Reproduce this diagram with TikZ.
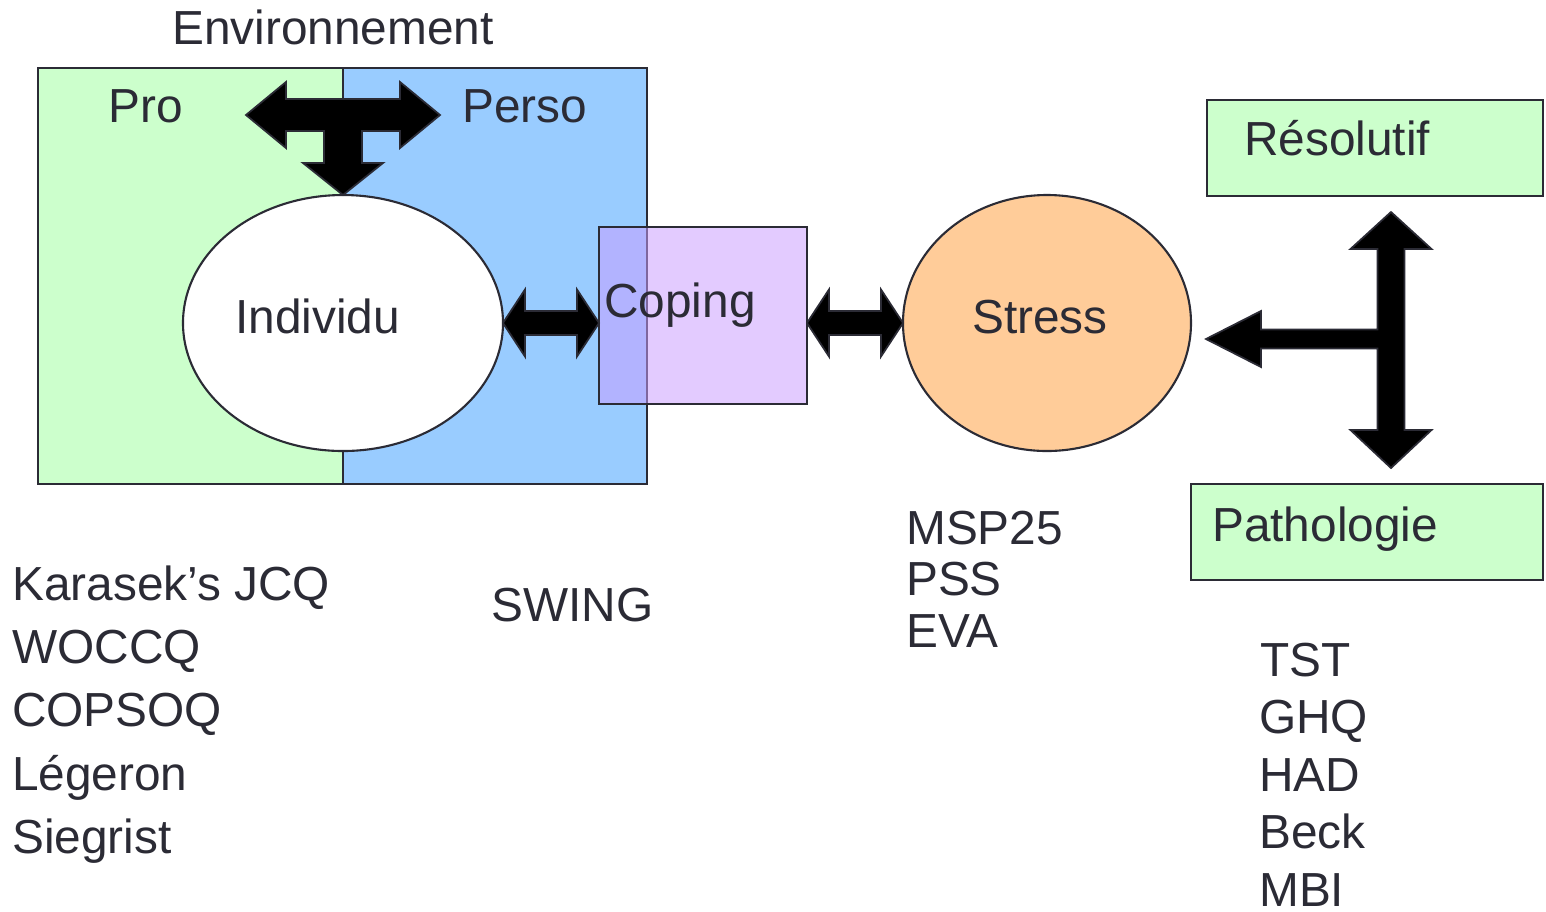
\documentclass[tikz,border=0pt]{standalone}
\usepackage{fontspec}
\setmainfont{Liberation Sans}
\usetikzlibrary{calc,shapes.geometric}

\definecolor{ink}{HTML}{2B2B35}
\definecolor{progreen}{HTML}{CCFFCC}
\definecolor{persoblue}{HTML}{99CCFF}
\definecolor{copviolet}{RGB}{202,157,255}
\definecolor{stressorange}{HTML}{FFCC99}

% block double arrow between two points on one row
\newcommand{\twoway}[2]{%
  \draw[blockarr] (#1) -- ($(#1)+(0.22,0.335)$) -- ($(#1)+(0.22,0.12)$) -- ($(#2)+(-0.22,0.12)$)
    -- ($(#2)+(-0.22,0.335)$) -- (#2) -- ($(#2)+(-0.22,-0.335)$) -- ($(#2)+(-0.22,-0.12)$)
    -- ($(#1)+(0.22,-0.12)$) -- ($(#1)+(0.22,-0.335)$) -- cycle;}

\tikzset{
  txt/.style={anchor=base west, inner sep=0, xshift=0.25mm, text=ink, font=\fontsize{13.6pt}{16pt}\selectfont},
  pane/.style={draw=ink, line width=0.6pt, inner sep=0, outer sep=0},
  blockarr/.style={fill=black, draw=ink, line width=0.5pt, line join=miter}
}

\begin{document}
\begin{tikzpicture}
		\useasboundingbox (0,0) rectangle (15.46,-9.11);

		% environnement
		\draw (1.905,-2.76) node[pane, fill=progreen, minimum width=3.05cm, minimum height=4.16cm] (pro) {};
		\draw (4.95,-2.76) node[pane, fill=persoblue, minimum width=3.04cm, minimum height=4.16cm] (perso) {};
		\draw (1.69,-0.44) node[txt] (envlbl) {Environnement};
		\draw (1.05,-1.22) node[txt] (prolbl) {Pro};
		\draw (4.59,-1.22) node[txt] (persolbl) {Perso};

		\draw (3.43,-3.23) node[pane, ellipse, fill=white, minimum width=3.2cm, minimum height=2.56cm] (ind) {};
		\draw (2.32,-3.33) node[txt] (indlbl) {Individu};

		\coordinate (tj) at ($(ind.north)+(0,0.8)$);
		\draw[blockarr, shift={(tj)}] (-0.97,0) -- (-0.57,0.33) -- (-0.57,0.16) -- (0.57,0.16) -- (0.57,0.33)
			-- (0.97,0) -- (0.57,-0.33) -- (0.57,-0.16) -- (0.19,-0.16) -- (0.19,-0.48) -- (0.40,-0.48)
			-- (0,-0.8) -- (-0.40,-0.48) -- (-0.19,-0.48) -- (-0.19,-0.16) -- (-0.57,-0.16) -- (-0.57,-0.33) -- cycle;

		% coping et stress
		\draw (7.03,-3.155) node[pane, fill=copviolet, fill opacity=0.53, minimum width=2.08cm, minimum height=1.77cm] (cop) {};
		\draw (6.01,-3.17) node[txt] (coplbl) {Coping};
		\draw (10.47,-3.23) node[pane, ellipse, fill=stressorange, minimum width=2.88cm, minimum height=2.56cm] (str) {};
		\draw (9.69,-3.33) node[txt] (strlbl) {Stress};

		\coordinate (a1) at (ind.east);
		\coordinate (a2) at (cop.west |- ind.east);
		\twoway{a1}{a2}
		\coordinate (b1) at (cop.east |- str.west);
		\coordinate (b2) at (str.west);
		\twoway{b1}{b2}

		% issues
		\draw (13.75,-1.48) node[pane, fill=progreen, minimum width=3.36cm, minimum height=0.96cm] (res) {};
		\draw (12.41,-1.55) node[txt] (reslbl) {Résolutif};
		\draw (13.67,-5.32) node[pane, fill=progreen, minimum width=3.52cm, minimum height=0.96cm] (pat) {};
		\draw (12.09,-5.41) node[txt] (patlbl) {Pathologie};

		\coordinate (rj) at (13.91,-3.39);
		\draw[blockarr, shift={(rj)}] (0,1.27) -- (0.405,0.90) -- (0.135,0.90) -- (0.135,-0.91) -- (0.405,-0.91)
			-- (0,-1.29) -- (-0.405,-0.91) -- (-0.135,-0.91) -- (-0.135,-0.095) -- (-1.30,-0.095) -- (-1.30,-0.28)
			-- (-1.85,0) -- (-1.30,0.28) -- (-1.30,0.095) -- (-0.135,0.095) -- (-0.135,0.90) -- (-0.405,0.90) -- cycle;

		% questionnaires
		\draw (0.09,-6.00) node[txt] (jcq) {Karasek’s JCQ};
		\draw (0.09,-6.63) node[txt] (woccq) {WOCCQ};
		\draw (0.09,-7.26) node[txt] (copsoq) {COPSOQ};
		\draw (0.09,-7.90) node[txt] (leg) {Légeron};
		\draw (0.09,-8.53) node[txt] (sieg) {Siegrist};

		\draw (4.88,-6.21) node[txt] (swing) {SWING};

		\draw (9.03,-5.44) node[txt] (msp) {MSP25};
		\draw (9.03,-5.95) node[txt] (pss) {PSS};
		\draw (9.03,-6.47) node[txt] (eva) {EVA};

		\draw (12.57,-6.76) node[txt] (tst) {TST};
		\draw (12.56,-7.33) node[txt] (ghq) {GHQ};
		\draw (12.56,-7.91) node[txt] (had) {HAD};
		\draw (12.56,-8.48) node[txt] (beck) {Beck};
		\draw (12.56,-9.06) node[txt] (mbi) {MBI};
	\end{tikzpicture}
\end{document}
